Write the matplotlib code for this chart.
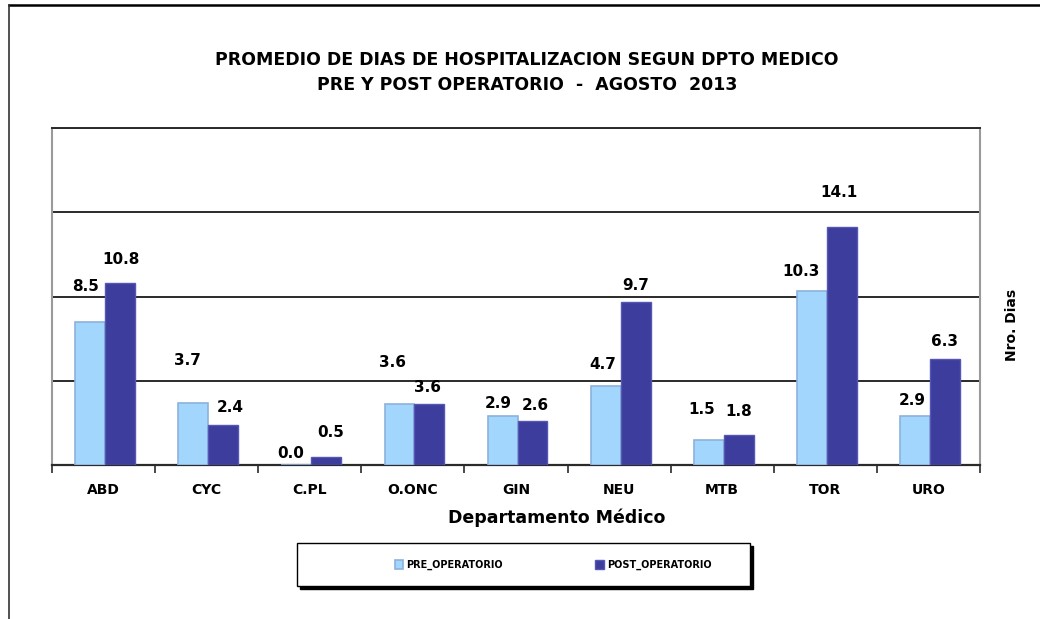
import matplotlib
matplotlib.use("Agg")
import matplotlib.pyplot as plt
import numpy as np
from matplotlib.patches import Rectangle
from matplotlib.lines import Line2D

# Datos
departamentos = ["ABD", "CYC", "C.PL", "O.ONC", "GIN", "NEU", "MTB", "TOR", "URO"]
pre_operatorio = [8.5, 3.7, 0.0, 3.6, 2.9, 4.7, 1.5, 10.3, 2.9]
post_operatorio = [10.8, 2.4, 0.5, 3.6, 2.6, 9.7, 1.8, 14.1, 6.3]

# desplazamiento de etiquetas (pixeles) tal como quedaron en el original
pre_dx = [-5, -6, -6, -7, -4, -3, -7, -11, -3]
pre_dy = [35, 42, 12, 42, 13, 21, 30, 20, 16]
post_dx = [1, 7, 4, -2, 3, 0, 0, -3, 0]
post_dy = [24, 17, 24, 17, 16, 16, 23, 35, 17]

C_PRE = "#A3D6FC"
C_PRE_EDGE = "#8CB2DC"
C_POST = "#3D3D9E"
C_POST_EDGE = "#5656B4"
GRID = "#2a2a2a"

W, H = 1040, 619
fig = plt.figure(figsize=(W / 100, H / 100), dpi=100)
fig.patch.set_facecolor("white")


def fx(px):
    return px / W


def fy(py):
    return 1 - py / H


ax = fig.add_axes([fx(52), fy(465), fx(980) - fx(52), fy(128) - fy(465)])

x = np.arange(len(departamentos))
bw = 0.29
shift = 0.015
ax.bar(x - bw / 2 + shift, pre_operatorio, bw, color=C_PRE, edgecolor=C_PRE_EDGE,
       linewidth=1.2, zorder=3, label="PRE_OPERATORIO")
ax.bar(x + bw / 2 + shift, post_operatorio, bw, color=C_POST, edgecolor=C_POST_EDGE,
       linewidth=1.0, zorder=3, label="POST_OPERATORIO")

for i in range(len(departamentos)):
    ax.annotate(f"{pre_operatorio[i]:.1f}", (x[i] - bw / 2 + shift, pre_operatorio[i]),
                xytext=(pre_dx[i], pre_dy[i]), textcoords="offset pixels",
                ha="center", va="center", fontsize=11, fontweight="bold", zorder=5)
    ax.annotate(f"{post_operatorio[i]:.1f}", (x[i] + bw / 2 + shift, post_operatorio[i]),
                xytext=(post_dx[i], post_dy[i]), textcoords="offset pixels",
                ha="center", va="center", fontsize=11, fontweight="bold", zorder=5)

ax.set_xlim(-0.5, len(departamentos) - 0.5)
ax.set_ylim(0, 20)
ax.set_yticks([0, 5, 10, 15, 20])
ax.yaxis.grid(True, color=GRID, linewidth=1.4)
ax.set_axisbelow(True)
ax.tick_params(axis="y", length=0, labelleft=False)

ax.set_xticks(np.arange(len(departamentos) + 1) - 0.5)
ax.set_xticklabels([])
ax.tick_params(axis="x", which="major", length=6, width=1.2, color=GRID, direction="out")
ax.set_xticks(x, minor=True)
ax.set_xticklabels(departamentos, minor=True, fontsize=10, fontweight="bold")
ax.tick_params(axis="x", which="minor", length=0, pad=13)

ax.spines["left"].set_color("#9a9a9a")
ax.spines["right"].set_color("#9a9a9a")
ax.spines["left"].set_linewidth(1.5)
ax.spines["right"].set_linewidth(1.5)
ax.spines["top"].set_color(GRID)
ax.spines["top"].set_linewidth(1.4)
ax.spines["bottom"].set_color(GRID)
ax.spines["bottom"].set_linewidth(1.6)

# titulos y ejes
fig.text(fx(527), fy(60), "PROMEDIO DE DIAS DE HOSPITALIZACION SEGUN DPTO MEDICO",
         ha="center", va="center", fontsize=12.5, fontweight="bold")
fig.text(fx(527), fy(85), "PRE Y POST OPERATORIO  -  AGOSTO  2013",
         ha="center", va="center", fontsize=12.5, fontweight="bold")
fig.text(fx(557), fy(518), "Departamento Médico", ha="center", va="center",
         fontsize=12.5, fontweight="bold")
fig.text(fx(1012), fy(325), "Nro. Dias", ha="center", va="center", rotation=90,
         fontsize=10, fontweight="bold")

# caja de leyenda con sombra
lx0, ly0, lx1, ly1 = 297, 543, 750, 586
fig.patches.append(Rectangle((fx(lx0 + 3), fy(ly1 + 3)), fx(lx1 - lx0), fy(ly0) - fy(ly1),
                             transform=fig.transFigure, facecolor="black",
                             edgecolor="black", zorder=1))
fig.patches.append(Rectangle((fx(lx0), fy(ly1)), fx(lx1 - lx0), fy(ly0) - fy(ly1),
                             transform=fig.transFigure, facecolor="white",
                             edgecolor="black", linewidth=1.0, zorder=2))
handles, labels = ax.get_legend_handles_labels()
leg = fig.legend(handles, labels, loc="center", bbox_to_anchor=(fx(553), fy(565)),
                 ncol=2, frameon=False, prop={"size": 7, "weight": "bold"},
                 handlelength=0.9, handleheight=0.9, handletextpad=0.3,
                 columnspacing=9.5)
leg.set_zorder(3)

# marco exterior
fig.add_artist(Line2D([fx(9), 1], [fy(5), fy(5)], color="black", linewidth=1.8,
                      transform=fig.transFigure))
fig.add_artist(Line2D([fx(9), fx(9)], [fy(5), 0], color="#333333", linewidth=1.2,
                      transform=fig.transFigure))

fig.savefig("out.png", dpi=100, facecolor="white")
